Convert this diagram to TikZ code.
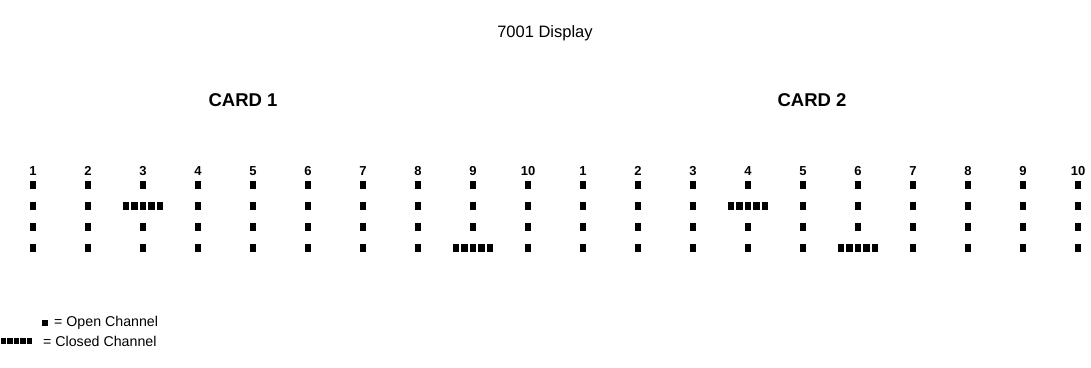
\documentclass[tikz,border=0pt]{standalone}
\usepackage{fontspec}
\setmainfont{Liberation Sans}
\begin{document}
\begin{tikzpicture}[x=1pt,y=-1pt,
  sq/.style={fill=black,draw=none,minimum width=6.5pt,minimum height=7.5pt,inner sep=0pt,outer sep=0pt},
  num/.style={font=\bfseries\fontsize{13}{14}\selectfont,inner sep=0pt},
  cardlbl/.style={font=\bfseries\fontsize{18.5}{20}\selectfont,inner sep=0pt},
  txt/.style={font=\fontsize{14.2}{16}\selectfont,inner sep=0pt,anchor=west}]
\useasboundingbox (0,0) rectangle (1091,367);
\node[font=\fontsize{16.5}{18}\selectfont] (title) at (545,33) {7001 Display};
\node[cardlbl] (c1) at (243,100) {CARD 1};
\node[cardlbl] (c2) at (812,100) {CARD 2};
% closed channels: card, column, row
\def\closedlist{1/3/2,1/9/4,2/4/2,2/6/4}
\foreach \c in {1,2}{
  \foreach \i in {1,...,10}{
    \pgfmathsetmacro{\xx}{33+55*(\i-1)+550*(\c-1)}
    \node[num] (n\c-\i) at (\xx,171) {\i};
    \foreach \r in {1,...,4}{
      \pgfmathsetmacro{\yy}{185+21*(\r-1)}
      \def\isclosed{0}
      \foreach \cc/\ci/\cr in \closedlist{
        \ifnum\cc=\c \ifnum\ci=\i \ifnum\cr=\r \xdef\isclosed{1}\fi\fi\fi
      }
      \ifnum\isclosed=1
        \foreach \d in {-17,-8.5,0,8.5,17}{
          \node[sq] at (\xx+\d,\yy) {};
        }
      \else
        \node[sq] (s\c-\i-\r) at (\xx,\yy) {};
      \fi
      \gdef\isclosed{0}
    }
  }
}
% legend
\node[sq,minimum width=5.5pt,minimum height=6.5pt] (lopen) at (45,323) {};
\node[txt] (topen) at (54,323) {= Open Channel};
\foreach \d in {0,1,2,3,4}{
  \node[sq,minimum width=5.5pt,minimum height=6.5pt] (lc\d) at (3.5+6.5*\d,341) {};
}
\node[txt] (tclosed) at (43,341) {= Closed Channel};
\end{tikzpicture}
\end{document}
